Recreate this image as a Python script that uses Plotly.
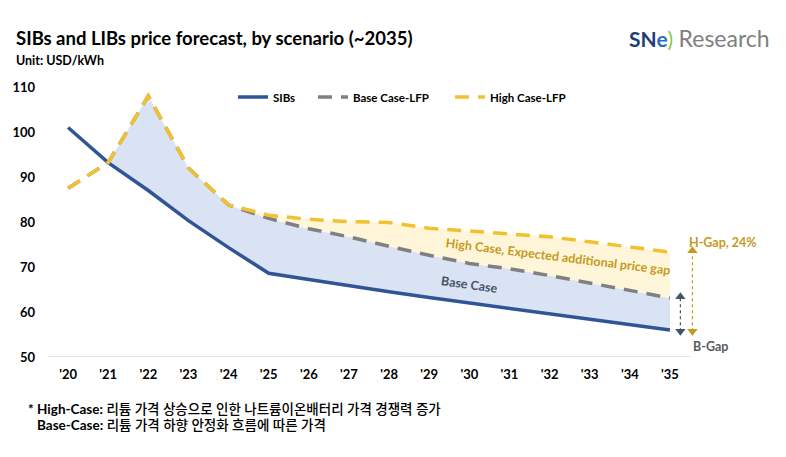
import plotly.graph_objects as go

years = ["'20", "'21", "'22", "'23", "'24", "'25", "'26", "'27", "'28", "'29",
         "'30", "'31", "'32", "'33", "'34", "'35"]
sibs = [101.0, 93.2, 87.0, 80.3, 74.3, 68.6, 67.2, 65.8, 64.5, 63.2,
        62.0, 60.8, 59.6, 58.4, 57.2, 56.0]
base_lfp = [87.5, 93.2, 108.0, 92.0, 83.8, 80.8, 78.5, 76.7, 74.6, 72.6,
            70.8, 69.6, 68.1, 66.5, 64.8, 63.1]
high_lfp = [87.5, 93.2, 108.0, 92.0, 83.8, 81.5, 80.6, 80.1, 79.9, 78.6,
            78.0, 77.4, 76.7, 75.6, 74.5, 73.3]

FONT = "Lato, 'Noto Sans CJK KR', sans-serif"
BLUE = "#2F5597"
GRAY = "#808080"
GOLD_LINE = "#F2C12E"
GOLD_TXT = "#C49A1C"
SLATE = "#44546A"

W, H = 786, 457
ML, MR, MT, MB = 48, 86, 87, 100
PW, PH = W - ML - MR, H - MT - MB
XMAX = 15.5 + 10 / 40.125  # plot area extends a bit past the last category

fig = go.Figure()

# blue fill between SIBs and base case (from '21 on)
i0 = 1
fig.add_trace(go.Scatter(x=years[i0:], y=base_lfp[i0:], mode="lines",
                         line=dict(width=0), showlegend=False, hoverinfo="skip"))
fig.add_trace(go.Scatter(x=years[i0:], y=sibs[i0:], mode="lines", fill="tonexty",
                         fillcolor="#DAE3F3", line=dict(width=0),
                         showlegend=False, hoverinfo="skip"))
# yellow fill between base and high case (from '24 on)
i1 = 4
fig.add_trace(go.Scatter(x=years[i1:], y=base_lfp[i1:], mode="lines",
                         line=dict(width=0), showlegend=False, hoverinfo="skip"))
fig.add_trace(go.Scatter(x=years[i1:], y=high_lfp[i1:], mode="lines", fill="tonexty",
                         fillcolor="#FFF5D9", line=dict(width=0),
                         showlegend=False, hoverinfo="skip"))

# lines (each in its own legend so entries sit where the reference puts them)
fig.add_trace(go.Scatter(x=years, y=sibs, mode="lines", name="SIBs", legend="legend",
                         line=dict(color=BLUE, width=3.5)))
fig.add_trace(go.Scatter(x=years, y=base_lfp, mode="lines", name="Base Case-LFP", legend="legend2",
                         line=dict(color=GRAY, width=3.5, dash="14px,9px")))
fig.add_trace(go.Scatter(x=years, y=high_lfp, mode="lines", name="High Case-LFP", legend="legend3",
                         line=dict(color=GOLD_LINE, width=3.5, dash="14px,9px")))

# gap arrows
xb, xh = 15.26, 15.56
fig.add_trace(go.Scatter(x=[xb, xb], y=[sibs[-1] - 0.3, base_lfp[-1] + 0.3], mode="lines+markers",
                         line=dict(color=SLATE, width=1.2, dash="dot"),
                         marker=dict(symbol=["triangle-down", "triangle-up"], size=9, color=SLATE),
                         xaxis="x2", showlegend=False, hoverinfo="skip", cliponaxis=False))
fig.add_trace(go.Scatter(x=[xh, xh], y=[sibs[-1] - 0.3, high_lfp[-1] + 0.3], mode="lines+markers",
                         line=dict(color=GOLD_TXT, width=1.2, dash="dot"),
                         marker=dict(symbol=["triangle-down", "triangle-up"], size=9, color=GOLD_TXT),
                         xaxis="x2", showlegend=False, hoverinfo="skip", cliponaxis=False))


def leg(px):
    return dict(orientation="h", x=(px - ML) / PW, y=(357 - 97) / PH,
                xanchor="left", yanchor="middle",
                font=dict(size=11.5, family=FONT, weight="bold"), bgcolor="rgba(0,0,0,0)",
                itemwidth=30)


fig.update_layout(
    width=W, height=H,
    margin=dict(l=ML, r=MR, t=MT, b=MB),
    paper_bgcolor="white", plot_bgcolor="white",
    font=dict(family=FONT, color="#000000"),
    showlegend=True,
    legend=leg(233), legend2=leg(313), legend3=leg(450),
    xaxis=dict(type="category", categoryorder="array", categoryarray=years,
               range=[-0.5, XMAX], showgrid=False, zeroline=False, showline=False,
               ticks="", tickfont=dict(size=13, weight="bold"), ticklabelstandoff=8),
    xaxis2=dict(overlaying="x", range=[-0.5, XMAX], visible=False),
    yaxis=dict(range=[50, 110], tickvals=[50, 60, 70, 80, 90, 100, 110],
               showgrid=False, zeroline=False, showline=False, ticks="",
               tickfont=dict(size=13, weight="bold"), ticklabelstandoff=12),
    shapes=[dict(type="line", xref="x2", yref="y", x0=-0.5, x1=15.5, y0=50, y1=50,
                 line=dict(color="#D9D9D9", width=1.5), layer="below")],
)

KR = "font-weight:500"
ann = [
    dict(text="<b>SIBs and LIBs price forecast, by scenario (~2035)</b>", x=14, y=38,
         font=dict(size=18.5)),
    dict(text="<b>Unit: USD/kWh</b>", x=14, y=61, font=dict(size=12.5)),
    dict(text="<b><span style='color:#1F3C7A'>SN</span><span style='color:#2E6DB4'>e</span></b>"
              "<span style='color:#8DC63F'>)</span> <span style='color:#7F7F7F;font-size:23px'>Research</span>",
         x=627, y=38, font=dict(size=21)),
    dict(text=f"<b>* High-Case:</b> <span style='{KR}'>리튬 가격 상승으로 인한 나트륨이온배터리 가격 경쟁력 증가</span>",
         x=26, y=409, font=dict(size=13.5)),
    dict(text=f"<b>Base-Case:</b> <span style='{KR}'>리튬 가격 하향 안정화 흐름에 따른 가격</span>",
         x=35, y=425, font=dict(size=13.5)),
    dict(text="<b>H-Gap, 24%</b>", x=687, y=243, font=dict(size=12.5, color=GOLD_TXT)),
    dict(text="<b>B-Gap</b>", x=691, y=346, font=dict(size=12.5, color="#595959")),
]
annotations = []
for a in ann:
    annotations.append(dict(text=a["text"], x=(a["x"] - ML) / PW, y=(H - MB - a["y"]) / PH,
                            xref="paper", yref="paper", xanchor="left", yanchor="middle",
                            showarrow=False, font=dict(family=FONT, **a["font"])))

annotations.append(dict(text="<b>High Case, Expected additional price gap</b>", x=12.2, y=72.3,
                        xref="x2", yref="y", showarrow=False, textangle=7,
                        font=dict(family=FONT, size=12.5, color=GOLD_TXT)))
annotations.append(dict(text="<b>Base Case</b>", x=10.0, y=66.2,
                        xref="x2", yref="y", showarrow=False, textangle=8,
                        font=dict(family=FONT, size=12.5, color=SLATE)))
fig.update_layout(annotations=annotations)

fig.write_html("out.html", post_script="document.body.style.margin='0';",
               config={"displayModeBar": False})
